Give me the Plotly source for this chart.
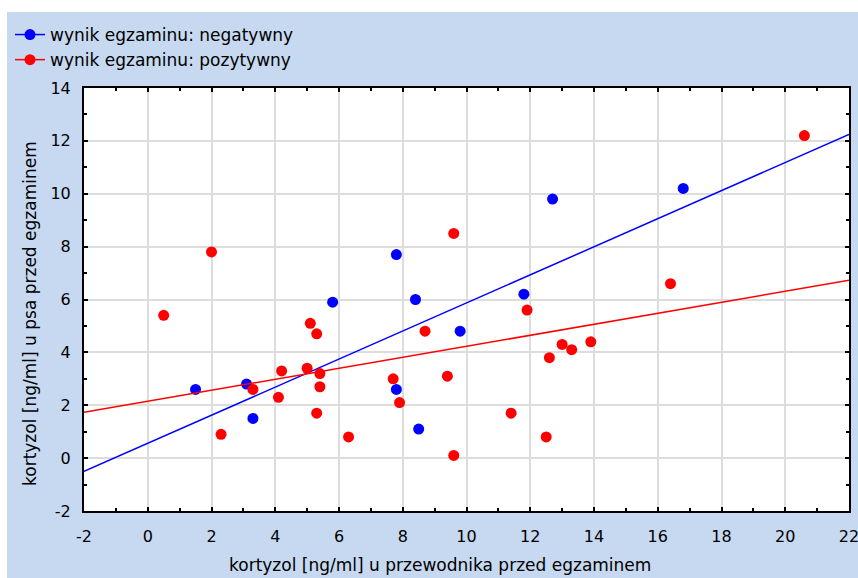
import plotly.graph_objects as go

# Kortyzol u przewodnika (x) i u psa (y), ng/ml, w podziale na wynik egzaminu
neg_x = [1.5, 3.1, 3.3, 5.8, 7.8, 8.4, 7.8, 8.5, 9.8, 11.8, 12.7, 16.8]
neg_y = [2.6, 2.8, 1.5, 5.9, 7.7, 6.0, 2.6, 1.1, 4.8, 6.2, 9.8, 10.2]

pos_x = [0.5, 2.0, 2.3, 3.3, 4.1, 4.2, 5.0, 5.1, 5.3, 5.4, 5.4, 5.3, 6.3, 7.7,
         7.9, 8.7, 9.6, 9.4, 9.6, 11.4, 11.9, 12.6, 13.0, 13.3, 13.9, 12.5,
         16.4, 20.6]
pos_y = [5.4, 7.8, 0.9, 2.6, 2.3, 3.3, 3.4, 5.1, 4.7, 3.2, 2.7, 1.7, 0.8, 3.0,
         2.1, 4.8, 8.5, 3.1, 0.1, 1.7, 5.6, 3.8, 4.3, 4.1, 4.4, 0.8,
         6.6, 12.2]

# Proste regresji: (wyraz wolny, nachylenie)
neg_fit = (0.56, 0.531)
pos_fit = (2.15, 0.208)

x_range = [-2, 22]
y_range = [-2, 14]
x_ticks = [-2, 0, 2, 4, 6, 8, 10, 12, 14, 16, 18, 20, 22]
x_ticktext = ["-2", "0", "2", "4", "6", "8", "10", "12", "14", "16", "18",
              "20", "22"]
y_ticks = [-2, 0, 2, 4, 6, 8, 10, 12, 14]
y_ticktext = ["-2", "0", "2", "4", "6", "8", "10", "12", "14"]

legend_names = ["wynik egzaminu: negatywny", "wynik egzaminu: pozytywny"]
x_title = "kortyzol [ng/ml] u przewodnika przed egzaminem"
y_title = "kortyzol [ng/ml] u psa przed egzaminem"

BLUE = "#0000FF"
RED = "#FF0000"
PANEL = "#C6D9F0"
FONT = "DejaVu Sans"

W, H = 858, 578
ML, MR, MT, MB = 84, 9, 88, 67
PW, PH = W - ML - MR, H - MT - MB


def px_to_paper(px, py):
    return (px - ML) / PW, (H - MB - py) / PH


def fit_line(fit):
    b0, b1 = fit
    return [b0 + b1 * x for x in x_range]


fig = go.Figure()

for name, xs, ys, fit, col in [
    (legend_names[0], neg_x, neg_y, neg_fit, BLUE),
    (legend_names[1], pos_x, pos_y, pos_fit, RED),
]:
    fig.add_trace(go.Scatter(
        x=x_range, y=fit_line(fit), mode="lines",
        line=dict(color=col, width=1.5), showlegend=False, hoverinfo="skip"))
    fig.add_trace(go.Scatter(
        x=xs, y=ys, mode="markers",
        marker=dict(color=col, size=11, line=dict(width=0)),
        showlegend=False))
    # legend entry: line with dot
    fig.add_trace(go.Scatter(
        x=[None], y=[None], mode="lines+markers", name=name,
        line=dict(color=col, width=1.5),
        marker=dict(color=col, size=11)))

# light blue panel behind the chart, white plotting area on top of it
x0, y1 = px_to_paper(7, 12)
x1, y0 = px_to_paper(W, H)
fig.add_shape(type="rect", xref="paper", yref="paper", x0=x0, x1=x1,
              y0=y0, y1=y1, fillcolor=PANEL, line=dict(width=0), layer="below")
fig.add_shape(type="rect", xref="paper", yref="paper", x0=0, x1=1,
              y0=0, y1=1, fillcolor="white", line=dict(width=0), layer="below")

axis_common = dict(
    showline=True, linecolor="black", linewidth=2, mirror="ticks",
    ticks="inside", ticklen=4, tickwidth=1.5, tickcolor="black",
    showgrid=True, gridcolor="#DDDDDD", gridwidth=2,
    zeroline=False, tickmode="array", ticklabeloverflow="allow",
    minor=dict(dtick=1, tick0=0, ticks="inside", ticklen=3, tickwidth=1.5,
               tickcolor="black", showgrid=False),
    tickfont=dict(family=FONT, size=16, color="black"),
)

fig.update_xaxes(range=x_range, tickvals=x_ticks, ticktext=x_ticktext,
                 ticklabelstandoff=10, **axis_common)
fig.update_yaxes(range=y_range, tickvals=y_ticks, ticktext=y_ticktext,
                 ticklabelstandoff=8, **axis_common)

# axis titles
tx, ty = px_to_paper(440, 565)
fig.add_annotation(text=x_title, xref="paper", yref="paper", x=tx, y=ty,
                   xanchor="center", yanchor="middle", showarrow=False,
                   font=dict(family=FONT, size=17, color="black"))
tx, ty = px_to_paper(30, 314)
fig.add_annotation(text=y_title, xref="paper", yref="paper", x=tx, y=ty,
                   xanchor="center", yanchor="middle", showarrow=False,
                   textangle=-90,
                   font=dict(family=FONT, size=17, color="black"))

lx, ly = px_to_paper(10, 17)
fig.update_layout(
    width=W, height=H, autosize=False,
    margin=dict(l=ML, r=MR, t=MT, b=MB, autoexpand=False),
    paper_bgcolor="white", plot_bgcolor="white",
    font=dict(family=FONT, size=16, color="black"),
    legend=dict(x=lx, y=ly, xanchor="left", yanchor="top",
                bgcolor="rgba(0,0,0,0)", font=dict(family=FONT, size=17),
                tracegroupgap=0, itemwidth=30),
    showlegend=True,
)

fig.write_html("out.html")
